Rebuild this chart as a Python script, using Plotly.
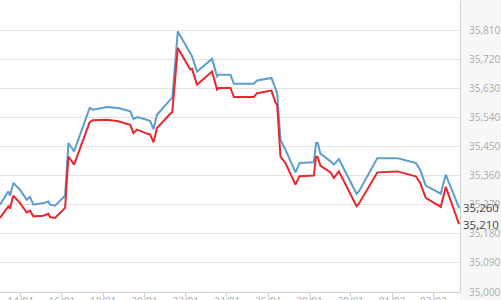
import plotly.graph_objects as go

dates = [
    "2022-01-13 00:00", "2022-01-13 09:40", "2022-01-13 11:40", "2022-01-13 15:30",
    "2022-01-13 23:20", "2022-01-14 07:06", "2022-01-14 10:57", "2022-01-14 14:48",
    "2022-01-15 02:27", "2022-01-15 08:16", "2022-01-15 10:15", "2022-01-15 16:04",
    "2022-01-16 03:43", "2022-01-16 07:34", "2022-01-16 14:13", "2022-01-16 23:32",
    "2022-01-17 08:16", "2022-01-17 11:46", "2022-01-18 04:18", "2022-01-18 17:29",
    "2022-01-19 07:27", "2022-01-19 11:18", "2022-01-19 15:15", "2022-01-20 02:54",
    "2022-01-20 06:45", "2022-01-20 10:36", "2022-01-20 14:33", "2022-01-21 06:03",
    "2022-01-21 08:23", "2022-01-21 14:47", "2022-01-22 05:21", "2022-01-22 07:20",
    "2022-01-22 13:10", "2022-01-23 06:38", "2022-01-23 12:27", "2022-01-23 14:19",
    "2022-01-24 04:00", "2022-01-24 08:04", "2022-01-25 07:07", "2022-01-25 11:04",
    "2022-01-26 03:42", "2022-01-26 08:22", "2022-01-26 10:21", "2022-01-26 14:12",
    "2022-01-26 20:01", "2022-01-27 07:40", "2022-01-27 12:20", "2022-01-28 05:00",
    "2022-01-28 07:34", "2022-01-28 09:40", "2022-01-28 12:35", "2022-01-29 00:27",
    "2022-01-29 04:18", "2022-01-29 10:08", "2022-01-30 06:45", "2022-01-30 09:25",
    "2022-01-31 06:52", "2022-02-01 06:11", "2022-02-02 03:29", "2022-02-02 08:43",
    "2022-02-02 15:08", "2022-02-03 08:37", "2022-02-03 14:26", "2022-02-04 05:55",
]

blue_values = [
    35270, 35311, 35298, 35337, 35316, 35285, 35294, 35270,
    35275, 35280, 35270, 35267, 35298, 35461, 35435, 35502,
    35569, 35564, 35572, 35569, 35559, 35535, 35541, 35533,
    35528, 35504, 35548, 35595, 35600, 35806, 35734, 35729,
    35682, 35721, 35667, 35672, 35672, 35644, 35644, 35654,
    35662, 35626, 35615, 35471, 35440, 35370, 35399, 35401,
    35461, 35461, 35428, 35404, 35394, 35411, 35304, 35311,
    35414, 35414, 35399, 35378, 35329, 35304, 35363, 35260,
]

red_values = [
    35229, 35265, 35258, 35298, 35275, 35246, 35252, 35234,
    35236, 35242, 35232, 35229, 35260, 35419, 35394, 35461,
    35525, 35531, 35533, 35528, 35517, 35492, 35502, 35490,
    35487, 35463, 35507, 35551, 35556, 35755, 35688, 35690,
    35641, 35682, 35626, 35631, 35631, 35603, 35603, 35615,
    35623, 35585, 35579, 35419, 35399, 35332, 35358, 35360,
    35419, 35417, 35391, 35370, 35353, 35373, 35265, 35273,
    35370, 35373, 35358, 35337, 35291, 35263, 35325, 35210,
]

y_ticks = list(range(35000, 35901, 90))
x_range = ["2022-01-13 00:00", "2022-02-04 07:00"]

fig = go.Figure()
fig.add_trace(go.Scatter(x=dates, y=blue_values, mode="lines",
                         line=dict(color="#5c9ecb", width=2), name="blue"))
fig.add_trace(go.Scatter(x=dates, y=red_values, mode="lines",
                         line=dict(color="#e8262b", width=2), name="red"))

fig.add_shape(type="rect", xref="paper", yref="paper", x0=1, x1=1.2, y0=-0.1, y1=1.1,
              fillcolor="#f7f7f7", line=dict(width=0), layer="below")

for val in (blue_values[-1], red_values[-1]):
    fig.add_annotation(x=1, xref="paper", y=val, yref="y", text=f"{val:,}",
                       showarrow=False, xanchor="left", xshift=1,
                       font=dict(family="Open Sans", size=11.5, color="#444"))

fig.update_layout(
    width=501, height=300,
    margin=dict(l=0, r=41, t=1, b=8, autoexpand=False),
    paper_bgcolor="white", plot_bgcolor="white",
    showlegend=False,
    font=dict(family="Open Sans", size=10, color="#aaa"),
    xaxis=dict(range=x_range, type="date", tick0="2022-01-14", dtick=2 * 86400000,
               tickformat="%d/%m", showgrid=False, showline=True, linecolor="#cfcfcf",
               linewidth=1, ticks="outside", ticklen=4, tickcolor="#cfcfcf",
               ticklabelstandoff=-4,
               tickfont=dict(size=10, color="#aaa"), zeroline=False, automargin=False),
    yaxis=dict(range=[35000, 35900], side="right", tickvals=y_ticks,
               tickformat=",", showgrid=True, gridcolor="#e2e2e2", gridwidth=1,
               showline=True, linecolor="#cfcfcf", linewidth=1,
               ticks="outside", ticklen=6, tickcolor="rgba(0,0,0,0)",
               tickfont=dict(size=10, color="#aaa"), zeroline=False, automargin=False),
)

fig.write_html("out.html")
